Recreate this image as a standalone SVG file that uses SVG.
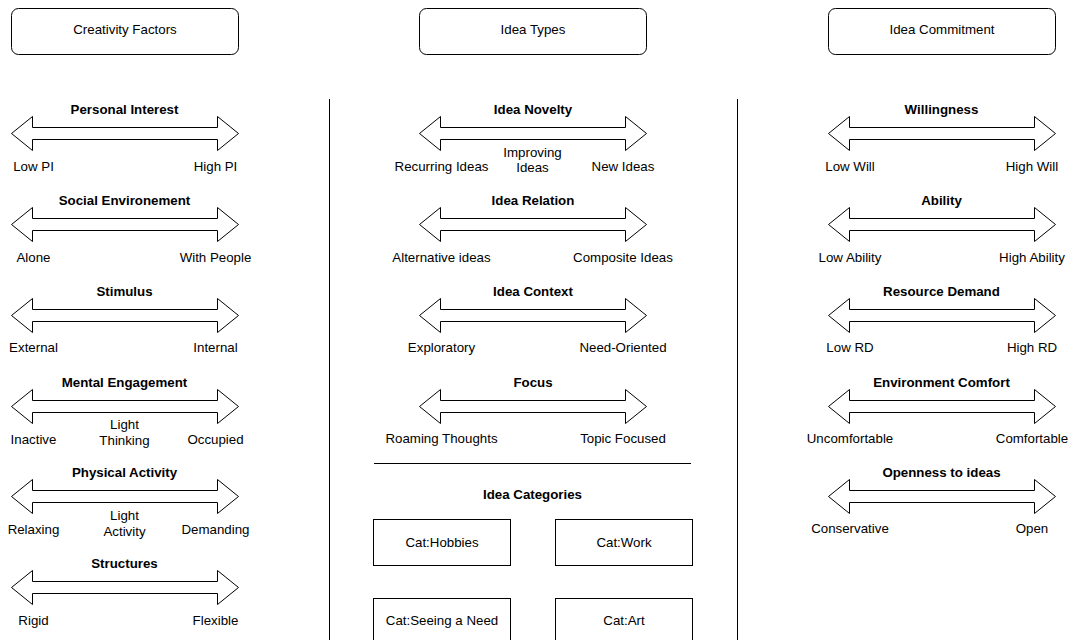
<svg xmlns="http://www.w3.org/2000/svg" xmlns:xlink="http://www.w3.org/1999/xlink" width="1072" height="640" viewBox="0 0 1072 640">
<style>
text{font-family:"Liberation Sans",Arial,Helvetica,sans-serif;font-size:13.3px;fill:#000;text-anchor:middle}
.t{font-weight:bold}
.hdr{fill:#fff;stroke:#000;stroke-width:1}
.arr{fill:#fff;stroke:#000;stroke-width:1;stroke-linejoin:miter}
.box{fill:#fff;stroke:#000;stroke-width:1}
.ln{stroke:#000;stroke-width:1;fill:none}
</style>
<defs>
<path id="dbl" d="M0,0 L21,-17 L21,-6 L206,-6 L206,-17 L227,0 L206,17 L206,6 L21,6 L21,17 Z"/>
</defs>
<rect width="1072" height="640" fill="#fff"/>

<g id="connectors">
<line class="ln" x1="329.5" y1="99" x2="329.5" y2="640"/>
<line class="ln" x1="737.5" y1="99" x2="737.5" y2="640"/>
<line class="ln" x1="374" y1="463.5" x2="691" y2="463.5"/>
</g>

<!-- Headers -->
<g id="hdr-creativity"><rect class="hdr" x="11.5" y="8.5" width="227" height="46" rx="7"/><text x="125" y="34">Creativity Factors</text></g>
<g id="hdr-ideatypes"><rect class="hdr" x="419.5" y="8.5" width="227" height="46" rx="7"/><text x="533" y="34">Idea Types</text></g>
<g id="hdr-commitment"><rect class="hdr" x="828.5" y="8.5" width="227" height="46" rx="7"/><text x="942" y="34">Idea Commitment</text></g>

<!-- Left column -->
<g id="personal-interest"><use href="#dbl" class="arr" x="11.5" y="133.5"/><text class="t" x="124.5" y="113.5">Personal Interest</text><text x="33.5" y="171">Low PI</text><text x="215.5" y="171">High PI</text></g>
<g id="social-env"><use href="#dbl" class="arr" x="11.5" y="224.5"/><text class="t" x="124.5" y="204.5">Social Environement</text><text x="33.5" y="262">Alone</text><text x="215.5" y="262">With People</text></g>
<g id="stimulus"><use href="#dbl" class="arr" x="11.5" y="315.5"/><text class="t" x="124.5" y="295.5">Stimulus</text><text x="33.5" y="352">External</text><text x="215.5" y="352">Internal</text></g>
<g id="mental-engagement"><use href="#dbl" class="arr" x="11.5" y="406.5"/><text class="t" x="124.5" y="386.5">Mental Engagement</text><text x="33.5" y="444">Inactive</text><text x="124.5" y="429">Light</text><text x="124.5" y="445">Thinking</text><text x="215.5" y="444">Occupied</text></g>
<g id="physical-activity"><use href="#dbl" class="arr" x="11.5" y="496.5"/><text class="t" x="124.5" y="476.5">Physical Activity</text><text x="33.5" y="534">Relaxing</text><text x="124.5" y="520">Light</text><text x="124.5" y="536">Activity</text><text x="215.5" y="534">Demanding</text></g>
<g id="structures"><use href="#dbl" class="arr" x="11.5" y="587.5"/><text class="t" x="124.5" y="567.5">Structures</text><text x="33.5" y="625">Rigid</text><text x="215.5" y="625">Flexible</text></g>

<!-- Middle column -->
<g id="idea-novelty"><use href="#dbl" class="arr" x="419.5" y="133.5"/><text class="t" x="533" y="113.5">Idea Novelty</text><text x="441.5" y="171">Recurring Ideas</text><text x="532.5" y="157">Improving</text><text x="532.5" y="172">Ideas</text><text x="623" y="171">New Ideas</text></g>
<g id="idea-relation"><use href="#dbl" class="arr" x="419.5" y="224.5"/><text class="t" x="533" y="204.5">Idea Relation</text><text x="441.5" y="262">Alternative ideas</text><text x="623" y="262">Composite Ideas</text></g>
<g id="idea-context"><use href="#dbl" class="arr" x="419.5" y="315.5"/><text class="t" x="533" y="295.5">Idea Context</text><text x="441.5" y="352">Exploratory</text><text x="623" y="352">Need-Oriented</text></g>
<g id="focus"><use href="#dbl" class="arr" x="419.5" y="406.5"/><text class="t" x="533" y="386.5">Focus</text><text x="441.5" y="443">Roaming Thoughts</text><text x="623" y="443">Topic Focused</text></g>
<g id="idea-categories"><text class="t" x="532.5" y="499">Idea Categories</text></g>
<g id="cat-hobbies"><rect class="box" x="373.5" y="519.5" width="137" height="46"/><text x="442" y="547">Cat:Hobbies</text></g>
<g id="cat-work"><rect class="box" x="555.5" y="519.5" width="137" height="46"/><text x="624" y="547">Cat:Work</text></g>
<g id="cat-need"><rect class="box" x="373.5" y="598.5" width="137" height="46"/><text x="442" y="625">Cat:Seeing a Need</text></g>
<g id="cat-art"><rect class="box" x="555.5" y="598.5" width="137" height="46"/><text x="624" y="625">Cat:Art</text></g>

<!-- Right column -->
<g id="willingness"><use href="#dbl" class="arr" x="828.5" y="133.5"/><text class="t" x="941.5" y="113.5">Willingness</text><text x="850" y="171">Low Will</text><text x="1032" y="171">High Will</text></g>
<g id="ability"><use href="#dbl" class="arr" x="828.5" y="224.5"/><text class="t" x="941.5" y="204.5">Ability</text><text x="850" y="262">Low Ability</text><text x="1032" y="262">High Ability</text></g>
<g id="resource-demand"><use href="#dbl" class="arr" x="828.5" y="315.5"/><text class="t" x="941.5" y="295.5">Resource Demand</text><text x="850" y="352">Low RD</text><text x="1032" y="352">High RD</text></g>
<g id="env-comfort"><use href="#dbl" class="arr" x="828.5" y="406.5"/><text class="t" x="941.5" y="386.5">Environment Comfort</text><text x="850" y="443">Uncomfortable</text><text x="1032" y="443">Comfortable</text></g>
<g id="openness"><use href="#dbl" class="arr" x="828.5" y="496.5"/><text class="t" x="941.5" y="476.5">Openness to ideas</text><text x="850" y="533">Conservative</text><text x="1032" y="533">Open</text></g>
</svg>
